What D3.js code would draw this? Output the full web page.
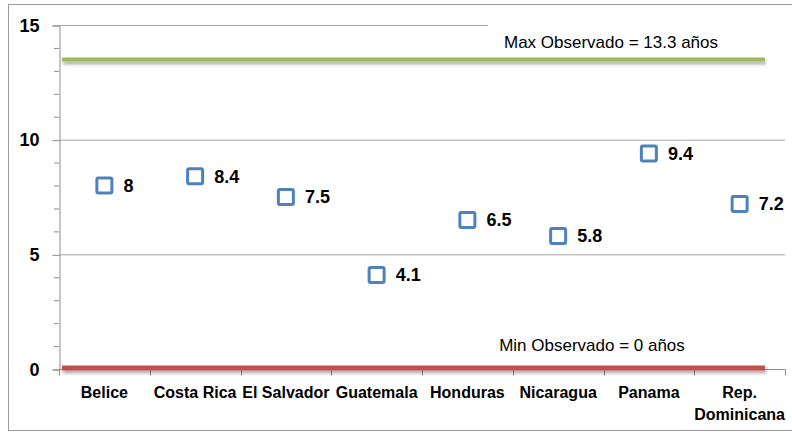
<!DOCTYPE html>
<html>
<head>
<meta charset="utf-8">
<script src="https://cdn.jsdelivr.net/npm/d3@7"></script>
<style>
  body { margin: 0; background: #fff; }
  text { font-family: "Liberation Sans", Arial, sans-serif; }
</style>
</head>
<body>
<div id="chart"></div>
<script>
var countries = ["Belice", "Costa Rica", "El Salvador", "Guatemala", "Honduras", "Nicaragua", "Panama", "Rep. Dominicana"];
var values = [8, 8.4, 7.5, 4.1, 6.5, 5.8, 9.4, 7.2];
var yTicks = [0, 5, 10, 15];
var maxLine = 13.5;   // drawn position in the picture
var minLine = 0;
var maxLabel = "Max Observado = 13.3 años";
var minLabel = "Min Observado = 0 años";

var W = 792, H = 436;
var pLeft = 59, pRight = 785, pTop = 25, pBottom = 369;

var svg = d3.select("#chart").append("svg").attr("width", W).attr("height", H);

// outer frame
svg.append("rect").attr("x", 8.5).attr("y", 4.5).attr("width", 800).attr("height", 426)
  .attr("fill", "none").attr("stroke", "#9a9a9a").attr("stroke-width", 1);

var x = d3.scaleBand().domain(countries).range([pLeft, pRight]);
var y = d3.scaleLinear().domain([0, 15]).range([pBottom, pTop]);

var defs = svg.append("defs");
var f = defs.append("filter").attr("id", "shadow").attr("filterUnits", "userSpaceOnUse")
  .attr("x", 0).attr("y", 0).attr("width", W).attr("height", H);
f.append("feGaussianBlur").attr("in", "SourceAlpha").attr("stdDeviation", 1.5).attr("result", "b");
f.append("feOffset").attr("in", "b").attr("dx", 1).attr("dy", 2.5).attr("result", "o");
f.append("feComponentTransfer").attr("in", "o").attr("result", "s")
  .append("feFuncA").attr("type", "linear").attr("slope", 0.3);
var m = f.append("feMerge");
m.append("feMergeNode").attr("in", "s");
m.append("feMergeNode").attr("in", "SourceGraphic");

// gridlines
svg.append("g").selectAll("line").data(yTicks.filter(function(d){ return d > 0; })).join("line")
  .attr("x1", pLeft).attr("x2", function(d){ return d === 15 ? 488 : pRight; })
  .attr("y1", function(d){ return y(d) + 0.5; }).attr("y2", function(d){ return y(d) + 0.5; })
  .attr("stroke", "#a6a6a6").attr("stroke-width", 1);

// y axis
var yAxis = d3.axisLeft(y).tickValues(yTicks).tickSize(7).tickPadding(13);
var gy = svg.append("g").attr("transform", "translate(" + (pLeft + 0.5) + ",0.5)").call(yAxis);
gy.select(".domain").attr("stroke", "#8c8c8c");
gy.selectAll(".tick line").attr("stroke", "#8c8c8c");
gy.selectAll(".tick text").attr("font-size", 18).attr("font-weight", "bold").attr("fill", "#000")
  .style("font-family", "'Liberation Sans', Arial, sans-serif");
var minor = d3.range(0, 15).filter(function(d){ return d % 5 !== 0; });
svg.append("g").selectAll("line").data(minor).join("line")
  .attr("x1", pLeft - 5).attr("x2", pLeft).attr("y1", function(d){ return y(d) + 0.5; }).attr("y2", function(d){ return y(d) + 0.5; })
  .attr("stroke", "#8c8c8c");

// x axis
var gx = svg.append("g").attr("transform", "translate(0," + (pBottom + 0.5) + ")");
gx.append("line").attr("x1", pLeft).attr("x2", pRight).attr("stroke", "#8c8c8c");
var bounds = countries.map(function(c){ return x(c); }).concat([pRight]);
gx.selectAll("line.t").data(bounds).join("line").attr("class", "t")
  .attr("x1", function(d){ return Math.round(d) + 0.5; }).attr("x2", function(d){ return Math.round(d) + 0.5; })
  .attr("y1", 0).attr("y2", 6).attr("stroke", "#8c8c8c");

var lab = svg.append("g").selectAll("text").data(countries).join("text")
  .attr("x", function(d){ return x(d) + x.bandwidth() / 2; })
  .attr("y", 398).attr("text-anchor", "middle")
  .attr("font-size", 16).attr("font-weight", "bold").attr("fill", "#000");
lab.each(function(d){
  var t = d3.select(this);
  var parts = d === "Rep. Dominicana" ? ["Rep.", "Dominicana"] : [d];
  parts.forEach(function(p, i){
    t.append("tspan").attr("x", x(d) + x.bandwidth() / 2).attr("dy", i ? 22 : 0).text(p);
  });
});

// reference lines
svg.append("line").attr("x1", 62).attr("x2", 765).attr("y1", y(maxLine)).attr("y2", y(maxLine))
  .attr("stroke", "#9bbb59").attr("stroke-width", 4).attr("filter", "url(#shadow)");
svg.append("line").attr("x1", 62).attr("x2", 765).attr("y1", y(minLine) - 1).attr("y2", y(minLine) - 1)
  .attr("stroke", "#c0504d").attr("stroke-width", 5).attr("filter", "url(#shadow)");

svg.append("text").attr("x", 611).attr("y", 48).attr("text-anchor", "middle")
  .attr("font-size", 17).attr("fill", "#000").text(maxLabel);
svg.append("text").attr("x", 592).attr("y", 351).attr("text-anchor", "middle")
  .attr("font-size", 17).attr("fill", "#000").text(minLabel);

// markers
var pts = svg.append("g").selectAll("g").data(values).join("g")
  .attr("transform", function(d, i){ return "translate(" + (x(countries[i]) + x.bandwidth() / 2) + "," + y(d) + ")"; });
pts.append("rect").attr("x", -7.5).attr("y", -7.5).attr("width", 15).attr("height", 15).attr("rx", 1.5)
  .attr("fill", "#fff").attr("stroke", "#4f81bd").attr("stroke-width", 3);
pts.append("text").attr("x", 19).attr("dy", "0.36em").attr("font-size", 18).attr("font-weight", "bold")
  .attr("fill", "#000").text(function(d){ return d; });
</script>
</body>
</html>
